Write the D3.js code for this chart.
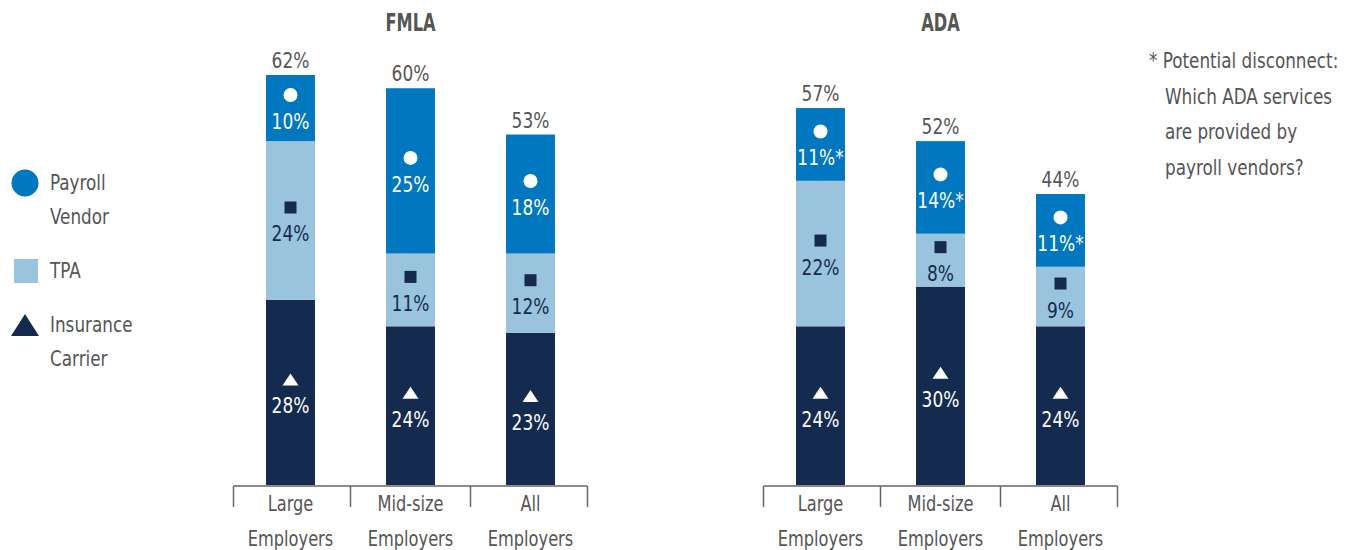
<!DOCTYPE html>
<html>
<head>
<meta charset="utf-8">
<script src="https://cdn.jsdelivr.net/npm/d3@7/dist/d3.min.js"></script>
<style>
  html, body { margin: 0; padding: 0; background: #fff; }
  svg text { font-family: "Liberation Sans Narrow", "DejaVu Sans Condensed", "Roboto", sans-serif; font-stretch: condensed; }
</style>
</head>
<body>
<svg id="chart" width="1355" height="550"></svg>
<script>
// categories and values
const categories = ['Large Employers', 'Mid-size Employers', 'All Employers'];
const categoryLines = [['Large', 'Employers'], ['Mid-size', 'Employers'], ['All', 'Employers']];
const seriesKeys = ['carrier', 'tpa', 'payroll'];

const fmlaPayroll = [10, 25, 18];
const fmlaTpa = [24, 11, 12];
const fmlaCarrier = [28, 24, 23];
const fmlaTotals = [62, 60, 53];

const adaPayroll = [11, 14, 11];
const adaTpa = [22, 8, 9];
const adaCarrier = [24, 30, 24];
const adaTotals = [57, 52, 44];
const adaFlagged = ['payroll']; // these values carry the footnote asterisk

const legendItems = [
  { key: 'payroll', lines: ['Payroll', 'Vendor'] },
  { key: 'tpa', lines: ['TPA'] },
  { key: 'carrier', lines: ['Insurance', 'Carrier'] }
];
const footnoteLines = ['* Potential disconnect:', 'Which ADA services', 'are provided by', 'payroll vendors?'];

const COLORS = {
  payroll: '#0077bf',
  tpa: '#9ac3de',
  carrier: '#142b4f',
  text: '#555555',
  axis: '#666666'
};
const markerColor = { payroll: '#ffffff', tpa: '#142b4f', carrier: '#ffffff' };

const svg = d3.select('#chart');

// shared y scale: same px per percent in both panels
const baseY = 485;
const y = d3.scaleLinear().domain([0, 62]).range([baseY, 75]);

// the reference uses a tall condensed face, so squeeze the fallback font sideways
function addText(parent, x, yPos, str, opts) {
  const o = Object.assign({ size: 21, sx: 0.88, anchor: 'middle', weight: 'normal', fill: COLORS.text }, opts);
  return parent.append('text')
    .attr('transform', `translate(${x},${yPos}) scale(${o.sx},1)`)
    .attr('text-anchor', o.anchor)
    .style('font-size', o.size + 'px')
    .style('font-weight', o.weight)
    .style('fill', o.fill)
    .text(str);
}

function makeRows(payroll, tpa, carrier, totals) {
  return categories.map((c, i) => ({
    category: c, payroll: payroll[i], tpa: tpa[i], carrier: carrier[i], total: totals[i]
  }));
}

function drawMarker(g, key, cx, cy) {
  const col = markerColor[key];
  if (key === 'payroll') {
    g.append('circle').attr('cx', cx).attr('cy', cy).attr('r', 7).attr('fill', col);
  } else if (key === 'tpa') {
    g.append('rect').attr('x', cx - 6).attr('y', cy - 6).attr('width', 12).attr('height', 12).attr('fill', col);
  } else {
    g.append('path')
      .attr('d', `M${cx - 8},${cy + 6}L${cx + 8},${cy + 6}L${cx},${cy - 6}Z`)
      .attr('fill', col);
  }
}

function drawPanel(title, rows, range, flagged) {
  const x = d3.scaleBand().domain(categories).range(range).paddingInner(0.592).paddingOuter(0.296);
  const stack = d3.stack().keys(seriesKeys);
  const layers = stack(rows);
  const g = svg.append('g');

  // title
  addText(g, (range[0] + range[1]) / 2, 31, title, { size: 25, sx: 0.72, weight: 'bold' });

  // bar segments
  layers.forEach(layer => {
    const key = layer.key;
    layer.forEach(d => {
      const cat = d.data.category;
      const x0 = x(cat);
      const top = y(d[1]);
      const bottom = y(d[0]);
      g.append('rect')
        .attr('x', x0)
        .attr('y', top)
        .attr('width', x.bandwidth())
        .attr('height', bottom - top)
        .attr('fill', COLORS[key]);

      const cx = x0 + x.bandwidth() / 2;
      const mid = (top + bottom) / 2;
      drawMarker(g, key, cx, mid - 13);
      addText(g, cx, mid + 21, d.data[key] + '%' + (flagged.includes(key) ? '*' : ''),
        { size: 22, sx: 0.86, fill: markerColor[key] });
    });
  });

  // totals above bars
  rows.forEach(r => {
    addText(g, x(r.category) + x.bandwidth() / 2, y(r.total) - 7, r.total + '%', { size: 22, sx: 0.86 });
  });

  // bracket style category axis
  const edges = [range[0] + 3].concat(categories.slice(1).map(c => x(c) - x.step() * x.paddingInner() / 2), [range[1] - 3]);
  g.append('line')
    .attr('x1', edges[0]).attr('x2', edges[edges.length - 1])
    .attr('y1', baseY + 1).attr('y2', baseY + 1)
    .attr('stroke', COLORS.axis).attr('stroke-width', 1.5);
  edges.forEach(e => {
    g.append('line')
      .attr('x1', e).attr('x2', e)
      .attr('y1', baseY + 1).attr('y2', baseY + 22)
      .attr('stroke', COLORS.axis).attr('stroke-width', 1.5);
  });

  categories.forEach((c, i) => {
    const cx = x(c) + x.bandwidth() / 2;
    categoryLines[i].forEach((line, j) => {
      addText(g, cx, 511 + j * 35, line, { size: 22, sx: 0.82 });
    });
  });
}

drawPanel('FMLA', makeRows(fmlaPayroll, fmlaTpa, fmlaCarrier, fmlaTotals), [230.5, 590.5], []);
drawPanel('ADA', makeRows(adaPayroll, adaTpa, adaCarrier, adaTotals), [760.5, 1120.5], adaFlagged);

// legend
const legend = svg.append('g');
const legendY = [183, 271, 325];
legendItems.forEach((item, i) => {
  const cy = legendY[i];
  if (item.key === 'payroll') {
    legend.append('circle').attr('cx', 25).attr('cy', cy).attr('r', 13.5).attr('fill', COLORS.payroll);
  } else if (item.key === 'tpa') {
    legend.append('rect').attr('x', 14).attr('y', cy - 12).attr('width', 24).attr('height', 24).attr('fill', COLORS.tpa);
  } else {
    legend.append('path').attr('d', `M11,${cy + 11}L39,${cy + 11}L25,${cy - 11}Z`).attr('fill', COLORS.carrier);
  }
  item.lines.forEach((line, j) => {
    addText(legend, 50, cy + 7 + j * 34, line, { size: 22, sx: 0.85, anchor: 'start' });
  });
});

// footnote
footnoteLines.forEach((line, j) => {
  addText(svg, j === 0 ? 1149 : 1165, 68 + j * 35.5, line, { size: 21, sx: 0.89, anchor: 'start' });
});
</script>
</body>
</html>
